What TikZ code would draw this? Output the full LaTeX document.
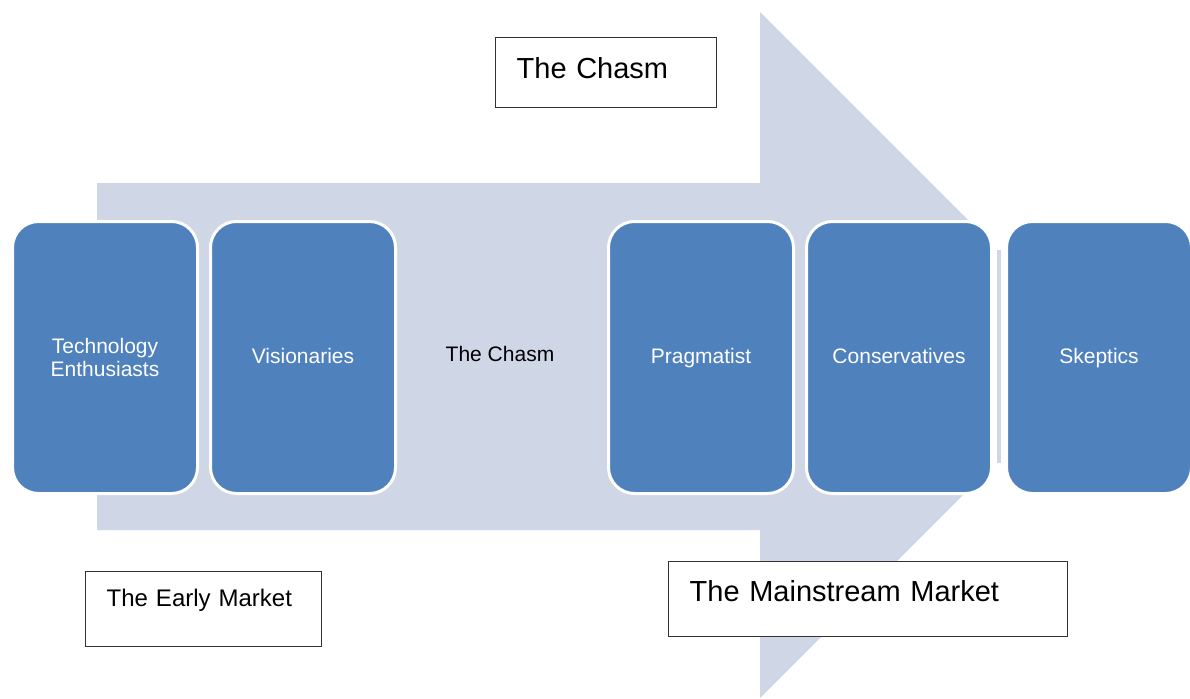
\documentclass[tikz,border=0pt]{standalone}
\usepackage{fontspec}
\setmainfont{Liberation Sans}
\definecolor{arrowfill}{RGB}{207,214,230}
\definecolor{boxblue}{RGB}{79,129,189}
\definecolor{edgegray}{RGB}{50,50,50}
\tikzset{
  segbox/.style={rectangle, rounded corners=26pt, fill=boxblue, draw=white, line width=3pt,
    minimum width=185pt, minimum height=272pt, anchor=north west, text=white,
    font=\fontsize{21}{23}\selectfont, align=center, inner sep=0pt},
  oneline/.style={text height=16pt, text depth=5pt},
  labbox/.style={rectangle, draw=edgegray, line width=1.3pt, fill=white, anchor=north west,
    align=left, inner xsep=21pt, inner ysep=0pt, text=black},
}
\begin{document}
\begin{tikzpicture}[x=1pt,y=-1pt]
\useasboundingbox (0,0) rectangle (1190,698);
% big arrow
\fill[arrowfill] (97,183) -- (760,183) -- (760,12) -- (1103,355) -- (760,698) -- (760,530) -- (97,530) -- cycle;
% white gap in front of the arrow tip, with its thin sliver
\fill[white] (992,200) rectangle (1190,510);
\fill[arrowfill] (997,250) rectangle (1001,463);
% segment boxes
\node[segbox] (tech) at (11,220) {Technology\\Enthusiasts};
\node[segbox, oneline] (vis) at (209,220) {Visionaries};
\node[segbox, oneline] (prag) at (607,220) {Pragmatist};
\node[segbox, oneline] (cons) at (805,220) {Conservatives};
\node[segbox, oneline] (skep) at (1005,220) {Skeptics};
% middle label
\node[font=\fontsize{21}{23}\selectfont, text height=16pt, text depth=5pt] (chasmmid) at (500,356) {The Chasm};
% label boxes
\node[labbox, text width=179pt, font=\fontsize{29}{32}\selectfont, text height=41pt, text depth=29pt] (chasmbox) at (495,37) {The Chasm};
\node[labbox, text width=194pt, font=\fontsize{24}{27}\selectfont, text height=35pt, text depth=40pt] (earlybox) at (85,571) {The Early Market};
\node[labbox, text width=357pt, font=\fontsize{29}{32}\selectfont, text height=40pt, text depth=35pt] (mainbox) at (668,561) {The Mainstream Market};
\end{tikzpicture}
\end{document}
